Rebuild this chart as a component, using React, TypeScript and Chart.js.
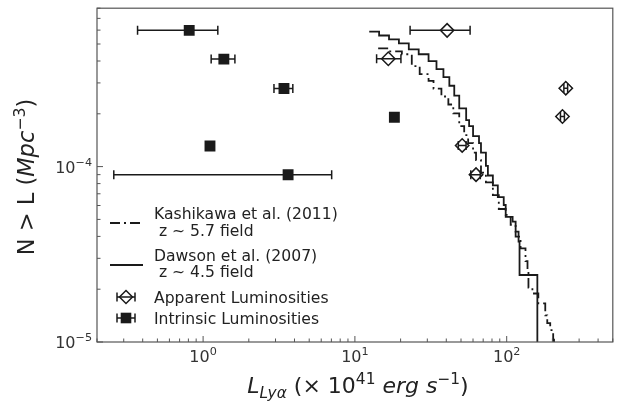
import React, { useEffect, useRef } from 'react';
import { Chart, registerables } from 'chart.js';
Chart.register(...registerables);

// Dawson et al. (2007), z ~ 4.5 field: cumulative N(>L)
const dawsonL = [12.43, 14.44, 16.78, 19.5, 22.65, 26.32, 30.57, 34.47, 38.3, 41.9, 45.14, 48.68, 54.07, 56.55, 60.03, 65.7, 67.7, 72.97, 75.19, 81.07, 87.39, 95.6, 98.5, 109.4, 114.5, 119.7, 121.5, 159.2];
const dawsonN = [5.88e-4, 5.59e-4, 5.31e-4, 5.04e-4, 4.66e-4, 4.37e-4, 3.99e-4, 3.6e-4, 3.24e-4, 2.89e-4, 2.54e-4, 2.15e-4, 1.84e-4, 1.7e-4, 1.49e-4, 1.36e-4, 1.2e-4, 1.01e-4, 8.9e-5, 7.82e-5, 6.7e-5, 6.04e-5, 5.17e-5, 4.85e-5, 4.26e-5, 3.74e-5, 2.41e-5, 5e-6];

// Kashikawa et al. (2011), z ~ 5.7 field
const kashL = [14.23, 16.78, 20.39, 23.7, 26.72, 30.57, 32.96, 37.15, 41.27, 44.48, 48.68, 52.48, 55.72, 60.03, 62.81, 67.7, 72.97, 81.07, 88.7, 98.5, 106.2, 114.5, 123.4, 133.0, 137.1, 139.1, 147.7, 161.6, 179.5, 185.0, 193.5, 202.4, 205.0];
const kashN = [4.72e-4, 4.54e-4, 4.37e-4, 3.74e-4, 3.37e-4, 3.08e-4, 2.78e-4, 2.51e-4, 2.26e-4, 2.01e-4, 1.7e-4, 1.51e-4, 1.36e-4, 1.2e-4, 1.09e-4, 9.25e-5, 8.13e-5, 6.87e-5, 5.73e-5, 5.3e-5, 4.66e-5, 3.99e-5, 3.42e-5, 2.89e-5, 2.54e-5, 2.04e-5, 1.89e-5, 1.66e-5, 1.42e-5, 1.28e-5, 1.17e-5, 1.03e-5, 8e-6];

// Apparent luminosities
const appL = [40.5, 16.6, 245, 233, 50.9, 62.8];
const appN = [5.98e-4, 4.12e-4, 2.8e-4, 1.93e-4, 1.32e-4, 9.0e-5];
const appLo = [23.1, 13.9, 238, 226, 48.0, 58.0];
const appHi = [57.4, 20.1, 252, 240, 54.0, 67.0];

// Intrinsic luminosities
const intL = [0.81, 1.37, 3.41, 1.11, 3.63, 18.2];
const intN = [5.98e-4, 4.1e-4, 2.79e-4, 1.31e-4, 8.98e-5, 1.91e-4];
const intLo = [0.37, 1.13, 2.93, 1.07, 0.258, 17.8];
const intHi = [1.25, 1.62, 3.9, 1.15, 7.03, 18.6];

const xTickVals = [1, 10, 100];
const xTickExp = ['0', '1', '2'];
const yTickVals = [1e-5, 1e-4];
const yTickExp = ['\u22125', '\u22124'];

const legendLabels = [
  ['Kashikawa et al. (2011)', ' z ~ 5.7 field'],
  ['Dawson et al. (2007)', ' z ~ 4.5 field'],
  ['Apparent Luminosities'],
  ['Intrinsic Luminosities'],
];

const FONT = '"DejaVu Sans", sans-serif';
const INK = '#1a1a1a';
const FRAME = '#555555';
const DASHDOT = [10, 4, 2, 4];

type Part = { t: string; it?: boolean; sup?: boolean; sub?: boolean };

function rich(ctx: CanvasRenderingContext2D, parts: Part[], x: number, y: number, size: number, align: 'left' | 'center' | 'right') {
  const segs = parts.map((p) => {
    const s = p.sup || p.sub ? size * 0.7 : size;
    const font = `${p.it ? 'italic ' : ''}${s}px ${FONT}`;
    ctx.font = font;
    return { ...p, font, w: ctx.measureText(p.t).width, dy: p.sup ? -size * 0.42 : p.sub ? size * 0.22 : 0 };
  });
  const total = segs.reduce((a, s) => a + s.w, 0);
  let cx = align === 'center' ? x - total / 2 : align === 'right' ? x - total : x;
  ctx.textAlign = 'left';
  ctx.textBaseline = 'alphabetic';
  for (const s of segs) {
    ctx.font = s.font;
    ctx.fillText(s.t, cx, y + s.dy);
    cx += s.w;
  }
}

function errBar(ctx: CanvasRenderingContext2D, x0: number, x1: number, y: number, cap: number) {
  ctx.beginPath();
  ctx.moveTo(x0, y);
  ctx.lineTo(x1, y);
  ctx.moveTo(x0, y - cap);
  ctx.lineTo(x0, y + cap);
  ctx.moveTo(x1, y - cap);
  ctx.lineTo(x1, y + cap);
  ctx.stroke();
}

const decorPlugin = {
  id: 'decor',
  beforeDatasetsDraw(chart: any) {
    const ctx: CanvasRenderingContext2D = chart.ctx;
    const xs = chart.scales.x;
    const ys = chart.scales.y;
    ctx.save();
    ctx.strokeStyle = INK;
    ctx.lineWidth = 1.5;
    const sets: [number[], number[], number[]][] = [
      [appLo, appHi, appN],
      [intLo, intHi, intN],
    ];
    for (const [lo, hi, n] of sets) {
      for (let i = 0; i < n.length; i++) {
        errBar(ctx, xs.getPixelForValue(lo[i]), xs.getPixelForValue(hi[i]), ys.getPixelForValue(n[i]), 4.5);
      }
    }
    ctx.restore();
  },
  afterDraw(chart: any) {
    const ctx: CanvasRenderingContext2D = chart.ctx;
    const xs = chart.scales.x;
    const ys = chart.scales.y;
    const a = chart.chartArea;
    ctx.save();
    // frame
    ctx.strokeStyle = FRAME;
    ctx.lineWidth = 1.2;
    ctx.strokeRect(a.left, a.top, a.right - a.left, a.bottom - a.top);
    // x ticks (inward)
    ctx.lineWidth = 1;
    for (let e = -1; e <= 3; e++) {
      for (let k = 1; k <= 9; k++) {
        const v = k * Math.pow(10, e);
        if (v < xs.min || v > xs.max) continue;
        const px = xs.getPixelForValue(v);
        const len = k === 1 ? 6 : 3.5;
        ctx.beginPath();
        ctx.moveTo(px, a.bottom);
        ctx.lineTo(px, a.bottom - len);
        ctx.stroke();
      }
    }
    for (let e = -6; e <= -3; e++) {
      for (let k = 1; k <= 9; k++) {
        const v = k * Math.pow(10, e);
        if (v < ys.min * 0.999 || v > ys.max) continue;
        const py = ys.getPixelForValue(v);
        const len = k === 1 ? 6 : 3.5;
        ctx.beginPath();
        ctx.moveTo(a.left, py);
        ctx.lineTo(a.left + len, py);
        ctx.stroke();
      }
    }
    // tick labels
    ctx.fillStyle = '#333333';
    xTickVals.forEach((v, i) => {
      rich(ctx, [{ t: '10' }, { t: xTickExp[i], sup: true }], xs.getPixelForValue(v), a.bottom + 20, 16, 'center');
    });
    yTickVals.forEach((v, i) => {
      rich(ctx, [{ t: '10' }, { t: yTickExp[i], sup: true }], a.left - 5, ys.getPixelForValue(v) + 6, 16, 'right');
    });
    // axis titles
    ctx.fillStyle = '#222222';
    rich(ctx, [
      { t: 'L', it: true }, { t: 'Ly\u03b1', it: true, sub: true }, { t: ' (\u00d7 10' }, { t: '41', sup: true },
      { t: ' ' }, { t: 'erg s', it: true }, { t: '\u22121', sup: true }, { t: ')' },
    ], 358, 393, 22, 'center');
    ctx.save();
    ctx.translate(34, 177);
    ctx.rotate(-Math.PI / 2);
    rich(ctx, [{ t: 'N > L (' }, { t: 'Mpc', it: true }, { t: '\u22123', sup: true }, { t: ')' }], 0, 0, 22.5, 'center');
    ctx.restore();
    // legend
    ctx.strokeStyle = INK;
    ctx.fillStyle = '#222222';
    ctx.lineWidth = 1.8;
    ctx.setLineDash(DASHDOT);
    ctx.beginPath();
    ctx.moveTo(110, 223);
    ctx.lineTo(143, 223);
    ctx.stroke();
    ctx.setLineDash([]);
    ctx.beginPath();
    ctx.moveTo(110, 265);
    ctx.lineTo(143, 265);
    ctx.stroke();
    ctx.lineWidth = 1.5;
    errBar(ctx, 117, 135, 297, 4.5);
    ctx.beginPath();
    ctx.moveTo(126, 290.5);
    ctx.lineTo(132.5, 297);
    ctx.lineTo(126, 303.5);
    ctx.lineTo(119.5, 297);
    ctx.closePath();
    ctx.stroke();
    errBar(ctx, 117, 135, 318, 4.5);
    ctx.fillStyle = INK;
    ctx.fillRect(120.7, 312.7, 10.6, 10.6);
    ctx.fillStyle = '#222222';
    const rows = [[219, 236], [261, 277], [303], [324]];
    legendLabels.forEach((lines, i) => {
      lines.forEach((ln, j) => {
        ctx.font = `15.6px ${FONT}`;
        ctx.textAlign = 'left';
        ctx.textBaseline = 'alphabetic';
        ctx.fillText(ln, 154, rows[i][j]);
      });
    });
    ctx.restore();
  },
};

export default function App() {
  const ref = useRef<HTMLCanvasElement | null>(null);
  useEffect(() => {
    document.body.style.margin = '0';
    const canvas = ref.current!;
    const chart = new Chart(canvas, {
      type: 'scatter',
      data: {
        datasets: [
          {
            label: 'Apparent Luminosities',
            data: appL.map((x, i) => ({ x, y: appN[i] })),
            pointStyle: 'rectRot',
            pointRadius: 6.7,
            borderColor: INK,
            borderWidth: 1.5,
            backgroundColor: 'rgba(0,0,0,0)',
          },
          {
            label: 'Intrinsic Luminosities',
            data: intL.map((x, i) => ({ x, y: intN[i] })),
            pointStyle: 'rect',
            pointRadius: 7.7,
            borderColor: INK,
            borderWidth: 0,
            backgroundColor: INK,
          },
          {
            type: 'line',
            label: 'Dawson et al. (2007)',
            data: dawsonL.map((x, i) => ({ x, y: dawsonN[i] })),
            stepped: 'before',
            borderColor: INK,
            borderWidth: 1.8,
            pointRadius: 0,
            fill: false,
          },
          {
            type: 'line',
            label: 'Kashikawa et al. (2011)',
            data: kashL.map((x, i) => ({ x, y: kashN[i] })),
            stepped: 'before',
            borderColor: INK,
            borderWidth: 1.8,
            borderDash: DASHDOT,
            pointRadius: 0,
            fill: false,
          },
        ] as any,
      },
      options: {
        animation: false,
        responsive: false,
        events: [],
        layout: { padding: { left: 97, right: 4, top: 3, bottom: 61 } },
        plugins: { legend: { display: false }, tooltip: { enabled: false } },
        scales: {
          x: { type: 'logarithmic', min: 0.2, max: 500, display: false },
          y: { type: 'logarithmic', min: 1e-5, max: 8e-4, display: false },
        },
      },
      plugins: [decorPlugin],
    });
    return () => chart.destroy();
  }, []);
  return (
    <div style={{ position: 'absolute', left: 0, top: 0, width: 621, height: 403, background: '#fff' }}>
      <canvas ref={ref} width={621} height={403} style={{ width: 621, height: 403, display: 'block' }} />
    </div>
  );
}
